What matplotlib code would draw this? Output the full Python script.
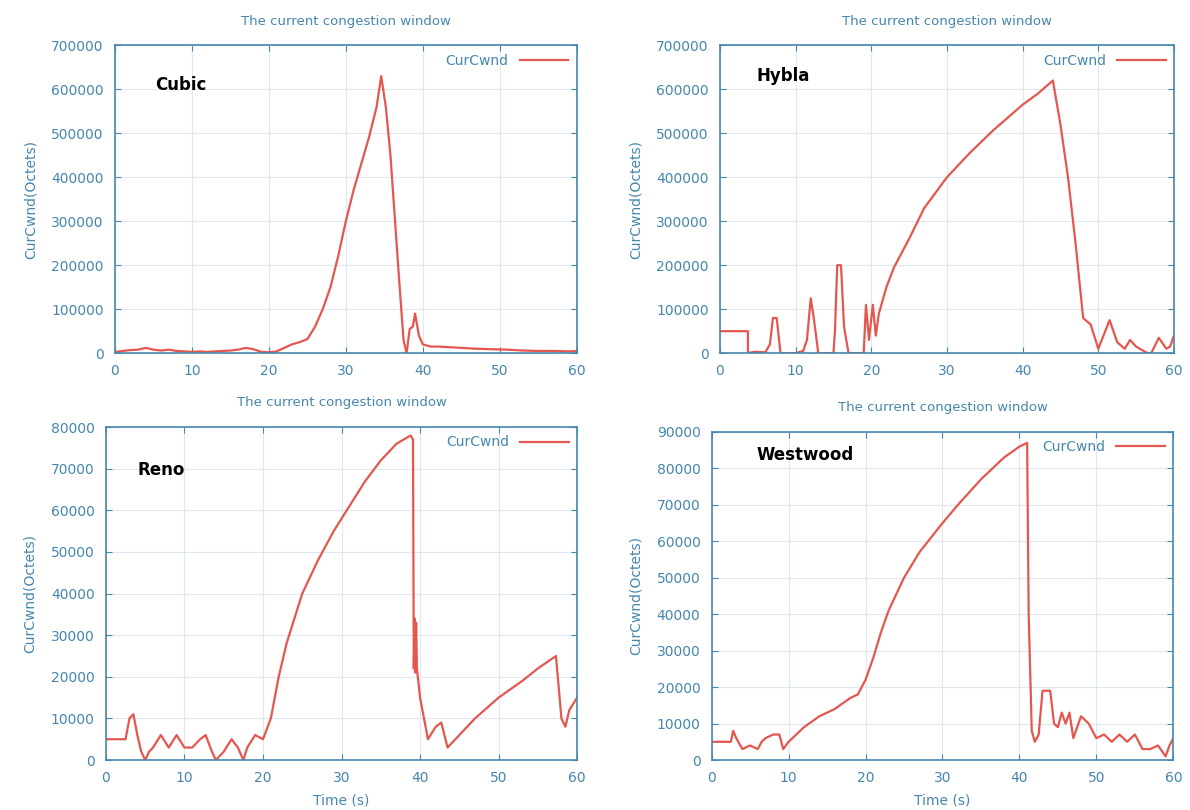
import matplotlib
matplotlib.use("Agg")
import matplotlib.pyplot as plt

# Cubic
cubic_t = [0, 1, 2, 3, 4, 5, 6, 7, 8, 9, 10, 11, 12, 13, 14, 15, 16, 17, 18, 19, 20, 21, 22, 23, 24,
           25, 26, 27, 28, 29, 30, 31, 32, 33, 34, 34.6, 35.2, 35.8, 36.4, 37, 37.5, 37.9, 38.3,
           38.7, 39, 39.5, 40, 41, 42, 43, 45, 47, 49, 51, 53, 55, 57, 59, 60]
cubic_v = [3000, 5000, 7000, 8000, 12000, 8000, 6000, 8000, 5000, 4000, 3000, 4000, 3000, 4000, 5000,
           6000, 8000, 12000, 9000, 3000, 2000, 4000, 12000, 20000, 25000,
           32000, 60000, 100000, 150000, 220000, 300000, 370000, 430000, 490000, 560000, 630000,
           560000, 450000, 300000, 150000, 30000, 0, 55000, 60000, 90000, 40000, 20000, 15000,
           15000, 14000, 12000, 10000, 9000, 8000, 6000, 5000, 5000, 4000, 5000]

# Hybla
hybla_t = [0, 3.7, 3.7, 4.5, 6, 6.6, 7, 7.5, 8, 10, 11, 11.5, 12, 12.4, 13, 15, 15.2, 15.5, 16, 16.4,
           17, 19, 19.3, 19.7, 20.2, 20.6, 21, 22, 23, 25, 27, 30, 33, 36, 40, 42, 44, 45, 46, 47,
           48, 49, 50, 51.5, 52.5, 53.5, 54.2, 55, 56.5, 57, 58, 59, 59.5, 60]
hybla_v = [50000, 50000, 0, 3000, 2000, 20000, 80000, 80000, 0, 0, 5000, 30000, 125000, 80000, 0, 0,
           50000, 200000, 200000, 60000, 0, 0, 110000, 30000, 110000, 40000, 90000, 150000, 195000,
           260000, 330000, 400000, 455000, 505000, 565000, 590000, 620000, 520000, 400000, 250000,
           80000, 65000, 10000, 75000, 25000, 10000, 30000, 15000, 0, 0, 35000, 10000, 15000, 40000]

# Reno
reno_t = [0, 2.5, 3, 3.5, 4, 4.5, 5, 5.5, 6, 7, 8, 9, 10, 11, 12, 12.7, 13.5, 14, 15, 16, 16.8, 17.5,
          18, 19, 20, 21, 22, 23, 24, 25, 27, 29, 31, 33, 35, 37, 38.8, 39.1, 39.2, 39.3, 39.4, 39.5,
          39.6, 40, 41, 42, 42.7, 43.5, 45, 47, 50, 53, 55, 57.3, 58, 58.5, 59, 60]
reno_v = [5000, 5000, 10000, 11000, 6000, 2000, 0, 2000, 3000, 6000, 3000, 6000, 3000, 3000, 5000,
          6000, 2000, 0, 2000, 5000, 3000, 0, 3000, 6000, 5000, 10000, 20000, 28000, 34000, 40000,
          48000, 55000, 61000, 67000, 72000, 76000, 78000, 77000, 22000, 34000, 21000, 33000, 22000,
          15000, 5000, 8000, 9000, 3000, 6000, 10000, 15000, 19000, 22000, 25000, 10000, 8000,
          12000, 15000]

# Westwood
westwood_t = [0, 2.5, 2.8, 3.2, 4, 5, 6, 6.5, 7, 8, 8.8, 9.3, 10, 12, 14, 16, 18, 19, 20, 21, 22, 23,
              25, 27, 30, 32, 35, 38, 40, 41, 41.2, 41.6, 42, 42.5, 43, 44, 44.5, 45, 45.5, 46, 46.5,
              47, 48, 49, 50, 51, 52, 53, 54, 55, 56, 57, 58, 59, 59.5, 60]
westwood_v = [5000, 5000, 8000, 6000, 3000, 4000, 3000, 5000, 6000, 7000, 7000, 3000, 5000, 9000,
              12000, 14000, 17000, 18000, 22000, 28000, 35000, 41000, 50000, 57000, 65000, 70000,
              77000, 83000, 86000, 87000, 40000, 8000, 5000, 7000, 19000, 19000, 10000, 9000, 13000,
              10000, 13000, 6000, 12000, 10000, 6000, 7000, 5000, 7000, 5000, 7000, 3000, 3000, 4000,
              1000, 4000, 6000]

names = ["Cubic", "Hybla", "Reno", "Westwood"]
series = [(cubic_t, cubic_v), (hybla_t, hybla_v), (reno_t, reno_v), (westwood_t, westwood_v)]
ymaxs = [700000, 700000, 80000, 90000]
ysteps = [100000, 100000, 10000, 10000]

axis_col = "#4587ad"
line_col = "#e4574f"

fig = plt.figure(figsize=(11.9, 8.1), dpi=100)
rects = [[0.0966, 0.564, 0.388, 0.380],
         [0.605, 0.564, 0.3815, 0.380],
         [0.089, 0.0617, 0.396, 0.411],
         [0.598, 0.0617, 0.388, 0.405]]
name_pos = [(0.087, 0.87), (0.08, 0.90), (0.066, 0.87), (0.097, 0.93)]

for i in range(4):
    ax = fig.add_axes(rects[i])
    t, v = series[i]
    ax.plot(t, v, color=line_col, lw=1.6, label="CurCwnd")
    ax.set_xlim(0, 60)
    ax.set_ylim(0, ymaxs[i])
    ax.set_xticks(range(0, 61, 10))
    ax.set_yticks(range(0, ymaxs[i] + 1, ysteps[i]))
    ax.grid(True, color="#dfe8ee", lw=0.8)
    for s in ax.spines.values():
        s.set_color(axis_col)
        s.set_linewidth(1.2)
    ax.tick_params(colors=axis_col, labelsize=10, direction="in", length=4,
                   top=True, right=True)
    ax.tick_params(axis="y", pad=8)
    ax.tick_params(axis="x", pad=8)
    ax.set_ylabel("CurCwnd(Octets)", color=axis_col, fontsize=10, labelpad=10)
    ax.set_title("The current congestion window", color=axis_col, fontsize=9.5, pad=15)
    if i >= 2:
        ax.set_xlabel("Time (s)", color=axis_col, fontsize=10, labelpad=6)
    ax.text(name_pos[i][0], name_pos[i][1], names[i], transform=ax.transAxes,
            fontsize=12, fontweight="bold", color="black", va="center")
    leg = ax.legend(loc="upper right", frameon=False, markerfirst=False, fontsize=10,
                    handlelength=3.5, borderaxespad=0.2)
    for txt in leg.get_texts():
        txt.set_color(axis_col)

fig.savefig("out.png", dpi=100)
